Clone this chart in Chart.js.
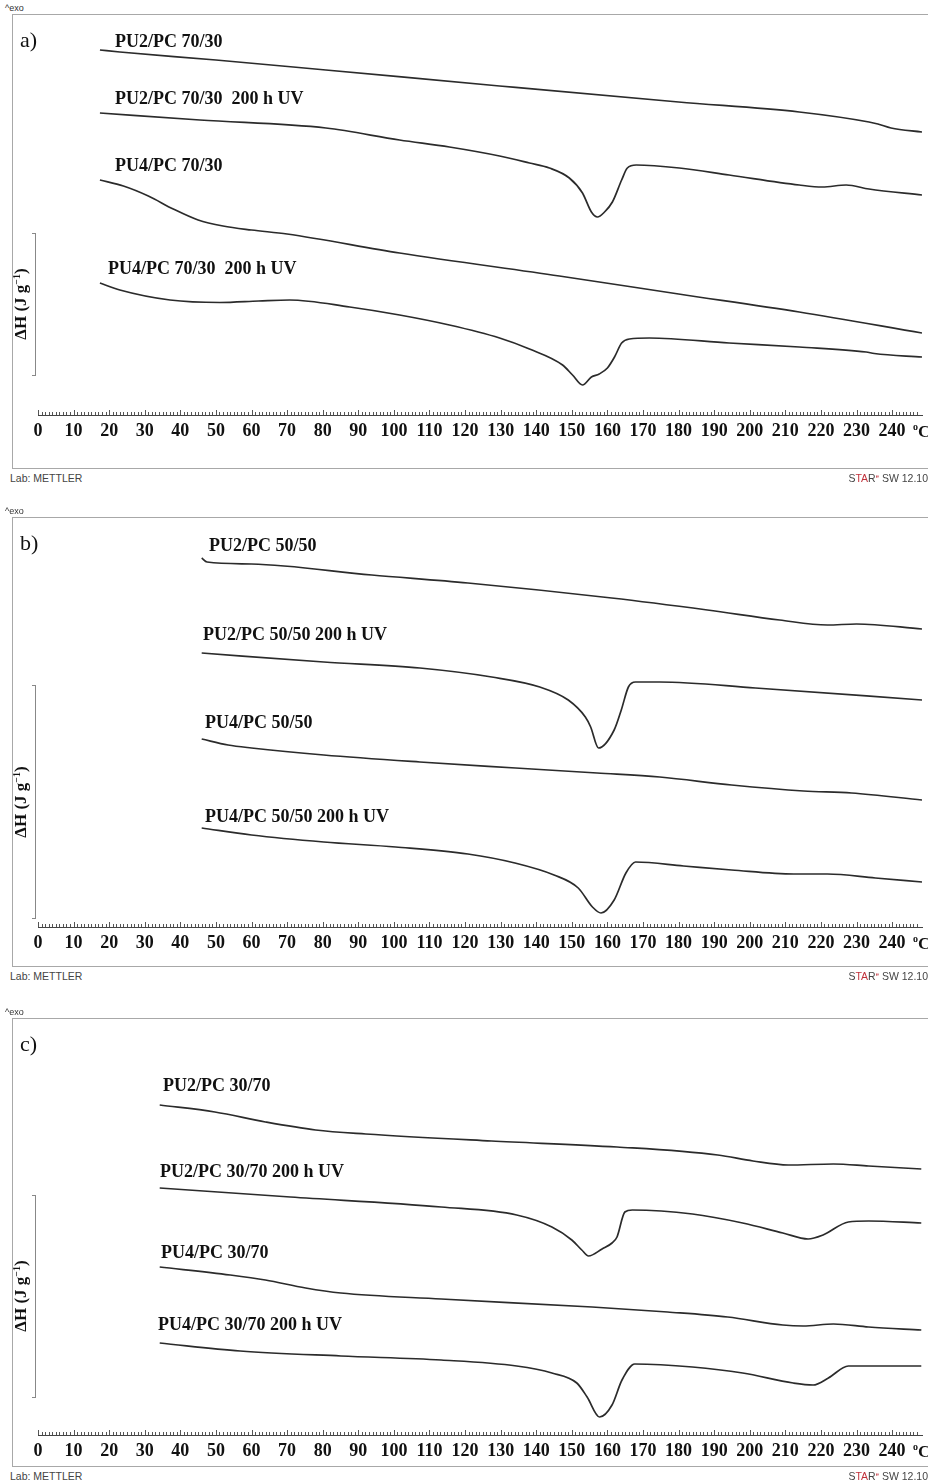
<!DOCTYPE html>
<html>
<head>
<meta charset="utf-8">
<script src="https://cdn.jsdelivr.net/npm/chart.js@4.4.1/dist/chart.umd.min.js"></script>
<style>
  html,body{margin:0;padding:0;background:#fff;}
  body{width:928px;height:1482px;position:relative;overflow:hidden;font-family:"Liberation Serif",serif;}
  .box{position:absolute;left:12px;width:930px;border:1.5px solid #a8a8a8;box-sizing:border-box;}
  canvas{position:absolute;left:0;}
  .t{position:absolute;white-space:pre;line-height:1;transform:translateY(-50%);}
  .lab{font-family:"Liberation Serif",serif;font-weight:bold;font-size:18px;color:#111;}
  .pl{font-family:"Liberation Serif",serif;font-size:22px;color:#111;}
  .sm{font-family:"Liberation Sans",Arial,sans-serif;font-size:9px;color:#333;}
  .ft{font-family:"Liberation Sans",Arial,sans-serif;font-size:10.5px;color:#444;}
  .yl{position:absolute;font-family:"Liberation Serif",serif;font-weight:bold;font-size:17px;color:#111;white-space:pre;transform:translate(-50%,-50%) rotate(-90deg);}
  .brl{position:absolute;width:0;border-left:1px solid #888;}
  .brt{position:absolute;height:0;width:4px;border-top:1px solid #888;}
  .deg{position:absolute;font-family:"Liberation Serif",serif;font-weight:bold;font-size:17px;color:#111;}
</style>
</head>
<body>
<script>
// ---------- DATA (temperature in °C, heat flow in arbitrary units, exo up) ----------
// Panel a) PU/PC 70/30
const a1T = [17.4, 23, 50, 80.9, 129.7, 180, 213.9, 233.5, 236, 239.7, 248.4];
const a1H = [365, 363, 355, 345, 329, 313, 303, 293, 291, 287, 283];
const a2T = [17.4, 45.5, 80.9, 101.6, 115.6, 129.7, 138.1, 143.7, 149.3, 153, 155.5, 157.2, 159.2, 161.4, 164, 165.6, 168.1, 180.2, 194.2, 213.9, 220.4, 227.1, 233.5, 248.4];
const a2H = [302, 295, 287, 275, 268, 259, 252, 247, 237, 222, 203, 198, 203, 213, 235, 247, 250, 247, 240, 230, 228, 230, 226, 220];
const a3T = [17.4, 24, 31, 38, 45, 52, 60, 70, 101.6, 146.5, 180, 213.9, 248.4];
const a3H = [235, 229, 219, 206, 195, 189, 185, 181, 162, 139, 121, 103, 82];
const a4T = [17.4, 23, 37.1, 51.1, 62, 70.7, 87.6, 101.6, 115.6, 129.7, 138.1, 147.4, 150.2, 153, 155.5, 157.7, 160, 162, 164, 166.2, 171.8, 194.2, 213.9, 232.7, 235, 248.4];
const a4H = [132, 125, 115, 112.5, 114, 115, 108, 100, 90, 77, 66, 50, 40, 30, 38, 41, 47, 58, 72, 76, 77, 72, 68, 63, 61.5, 58];
// Panel b) PU/PC 50/50
const b1T = [46, 47.5, 60, 93.8, 120.8, 161.2, 188.1, 208.4, 221.8, 230, 248.4];
const b1H = [369, 365, 363, 352, 344, 329, 317, 307, 302, 303, 298];
const b2T = [46, 80.3, 107.3, 127.5, 141, 149, 153.8, 155.3, 157.5, 161.9, 163.9, 165.9, 167.9, 174.7, 201.6, 248.4];
const b2H = [274, 265, 259, 250, 240, 227, 210, 200, 179, 197, 217, 240, 245, 245, 239, 227];
const b3T = [46, 53.4, 60, 80.3, 107.3, 134.2, 157.1, 174.7, 194.9, 215.1, 228.6, 248.4];
const b3H = [188, 182, 179, 172, 165, 159, 154, 150, 142, 136, 134, 127];
const b4T = [46, 60, 80.3, 100.5, 120.8, 134, 145, 151.8, 155.8, 158.2, 161.9, 165.2, 167.9, 181.4, 194.9, 212.4, 221.8, 235.3, 248.4];
const b4H = [99, 92, 85, 80, 73, 64, 52, 39, 20, 14, 27, 54, 65, 61, 57, 53, 53, 49, 45];
// Panel c) PU/PC 30/70
const c1T = [34.2, 49.7, 63.9, 78, 92.1, 127.4, 162.7, 191, 200.9, 210.8, 223.5, 233.4, 248.2];
const c1H = [330, 323, 313, 305, 301, 294, 288, 280, 274, 270, 271, 269, 266];
const c2T = [34.2, 70.9, 113.3, 134.5, 144.4, 150, 152.8, 154.7, 158.5, 161.3, 162.7, 164.9, 167, 183.9, 198, 209.3, 216.4, 220.6, 227.7, 233.4, 248.2];
const c2H = [247, 238, 228, 220, 208, 195, 185, 179, 186, 192, 198, 223, 225, 221, 212, 202, 196, 200, 213, 214, 212];
const c3T = [34.2, 54, 63.9, 75.2, 85.1, 113.3, 155.7, 176.9, 193.8, 209.3, 215, 223.5, 233.4, 248.2];
const c3H = [168, 160, 155, 147, 142, 136, 128, 123, 118, 110, 109, 111, 108, 105];
const c4T = [34.2, 56.8, 85.1, 113.3, 134.5, 144.4, 151.4, 154.3, 157.8, 161.3, 164.1, 167.7, 183.9, 198, 212.2, 217.8, 222.1, 227.7, 248.2];
const c4H = [92, 84, 79, 75, 69, 62, 52, 38, 18, 30, 55, 71, 68, 62, 52, 50, 57, 69, 69];

const xTickMin = 0, xTickMax = 240, xTickStep = 10;

const panels = [
  { tag:'a)', top:14, bottom:469, axis:415, bracket:[233,375],
    series:[[a1T,a1H,'PU2/PC 70/30',115,41],[a2T,a2H,'PU2/PC 70/30  200 h UV',115,98],[a3T,a3H,'PU4/PC 70/30',115,165],[a4T,a4H,'PU4/PC 70/30  200 h UV',108,268]] },
  { tag:'b)', top:517, bottom:967, axis:927, bracket:[685,918],
    series:[[b1T,b1H,'PU2/PC 50/50',209,545],[b2T,b2H,'PU2/PC 50/50 200 h UV',203,634],[b3T,b3H,'PU4/PC 50/50',205,722],[b4T,b4H,'PU4/PC 50/50 200 h UV',205,816]] },
  { tag:'c)', top:1018, bottom:1467, axis:1435, bracket:[1195,1397],
    series:[[c1T,c1H,'PU2/PC 30/70',163,1085],[c2T,c2H,'PU2/PC 30/70 200 h UV',160,1171],[c3T,c3H,'PU4/PC 30/70',161,1252],[c4T,c4H,'PU4/PC 30/70 200 h UV',158,1324]] }
];

const upTicks = {
  id:'upTicks',
  afterDraw(chart){
    const s = chart.scales.x, ctx = chart.ctx;
    ctx.save(); ctx.strokeStyle = '#555'; ctx.lineWidth = 1;
    s.ticks.forEach(t => {
      if (t.value > 248) return;
      const x = Math.round(s.getPixelForValue(t.value)) + 0.5;
      const len = (t.value % xTickStep === 0) ? 5 : 3;
      ctx.beginPath(); ctx.moveTo(x, s.top); ctx.lineTo(x, s.top - len); ctx.stroke();
    });
    ctx.restore();
  }
};

function addText(cls, txt, x, y, extra){
  const d = document.createElement('div');
  d.className = 't ' + cls; d.textContent = txt;
  d.style.left = x + 'px'; d.style.top = y + 'px';
  if (extra) Object.assign(d.style, extra);
  document.body.appendChild(d); return d;
}

panels.forEach(p => {
  const H = p.bottom - p.top;
  const axisOff = p.axis - p.top;
  const box = document.createElement('div');
  box.className = 'box'; box.style.top = p.top + 'px'; box.style.height = H + 'px';
  document.body.appendChild(box);

  const cv = document.createElement('canvas');
  cv.width = 928; cv.height = H; cv.style.top = p.top + 'px';
  cv.style.width = '928px'; cv.style.height = H + 'px';
  document.body.appendChild(cv);

  new Chart(cv.getContext('2d'), {
    type:'line',
    data:{ datasets: p.series.map(s => ({
      label: s[2],
      data: s[0].map((t,i) => ({x:t, y:s[1][i]})),
      borderColor:'#2b2b2b', borderWidth:1.7, pointRadius:0, fill:false,
      cubicInterpolationMode:'monotone'
    }))},
    options:{
      responsive:false, animation:false, devicePixelRatio:1,
      layout:{padding:{left:38, right:5, top:0, bottom:0}},
      plugins:{legend:{display:false}, tooltip:{enabled:false}},
      scales:{
        x:{ type:'linear', min:0, max:248.4,
            afterFit:(s)=>{ s.height = H - axisOff; },
            grid:{display:false, drawTicks:false},
            border:{display:true, color:'#444', width:1},
            ticks:{ stepSize:1, autoSkip:false, maxTicksLimit:1000, maxRotation:0, minRotation:0, padding:6,
                    color:'#111', font:{family:'Liberation Serif', weight:'bold', size:18},
                    callback:(v)=> (v % xTickStep === 0 && v >= xTickMin && v <= xTickMax) ? String(v) : '' } },
        y:{ display:false, min:0, max:axisOff }
      }
    },
    plugins:[upTicks]
  });

  addText('sm', '^exo', 5, p.top - 6);
  addText('pl', p.tag, 20, p.top + 26);
  p.series.forEach(s => addText('lab', s[2], s[3], s[4]));
  // y-axis bracket + label
  const b0 = p.bracket[0], b1 = p.bracket[1];
  const l = document.createElement('div'); l.className='brl';
  l.style.left='35px'; l.style.top=b0+'px'; l.style.height=(b1-b0)+'px'; document.body.appendChild(l);
  [b0,b1].forEach(yy => { const t=document.createElement('div'); t.className='brt'; t.style.left='32px'; t.style.top=yy+'px'; document.body.appendChild(t); });
  const yl = document.createElement('div'); yl.className='yl';
  yl.innerHTML = 'ΔH (J g<sup style="font-size:10px">−1</sup>)';
  yl.style.left='21px'; yl.style.top=((b0+b1)/2)+'px'; document.body.appendChild(yl);
  // unit
  const dg = document.createElement('div'); dg.className='deg';
  dg.innerHTML = '<sup style="font-size:10px">o</sup>C';
  dg.style.left='913px'; dg.style.top=(p.axis + 6)+'px'; document.body.appendChild(dg);
  // footer
  addText('ft', 'Lab: METTLER', 10, p.bottom + 9);
  const st = addText('ft', '', 0, p.bottom + 9, {left:'auto', right:'0px'});
  st.innerHTML = 'S<span style="color:#c0303a">TA</span>R<sup style="font-size:6px;color:#c0303a">e</sup> SW 12.10';
});
</script>
</body>
</html>
